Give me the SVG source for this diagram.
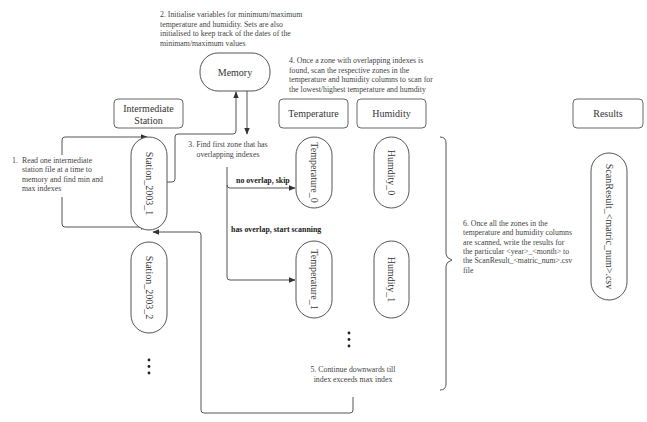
<svg xmlns="http://www.w3.org/2000/svg" width="647" height="422" viewBox="0 0 647 422">
<style>
  .bg{fill:#ffffff}
  .box{fill:#ffffff;stroke:#666666;stroke-width:1}
  .pill{fill:#ffffff;stroke:#555555;stroke-width:1}
  .lbl{font-family:"Liberation Serif","Times New Roman",serif;font-size:10px;fill:#333333}
  .note{font-family:"Liberation Serif","Times New Roman",serif;font-size:7.8px;fill:#444444}
  .bold{font-family:"Liberation Serif","Times New Roman",serif;font-size:7.9px;font-weight:bold;fill:#222222}
  .conn{fill:none;stroke:#555555;stroke-width:1}
  .dot{fill:#222222}
</style>
<defs>
  <marker id="arr" viewBox="0 0 10 10" refX="9" refY="5" markerWidth="7" markerHeight="7" markerUnits="userSpaceOnUse" orient="auto-start-reverse">
    <path d="M0,1 L10,5 L0,9 Z" fill="#333333"/>
  </marker>
</defs>
<rect class="bg" x="0" y="0" width="647" height="422"/>

<g id="connectors">
  <path class="conn" d="M247,91 V134" marker-end="url(#arr)"/>
  <path class="conn" d="M167,182 H172 Q175,182 175,179 V137 Q175,134 178,134 H233 Q236,134 236,131 V92" marker-end="url(#arr)"/>
  <path class="conn" d="M147,137 H65 Q62,137 62,140 V224 Q62,227 65,227 H147" marker-start="url(#arr)" marker-end="url(#arr)"/>
  <path class="conn" d="M353,397 V410 Q353,413 350,413 H204 Q201,413 201,410 V235 Q201,232 198,232 H153" marker-end="url(#arr)"/>
  <path class="conn" d="M227,167 V277 Q227,280 230,280 H295" marker-end="url(#arr)"/>
  <path class="conn" d="M227,185 Q227,188 230,188 H295" marker-end="url(#arr)"/>
  <path class="conn" d="M440,137 Q446,137 446,143 V254 Q446,258 452,260 Q446,262 446,266 V384 Q446,390 440,390" stroke="#777777"/>
</g>

<g id="memory">
  <rect class="pill" x="200" y="53" width="70" height="38" rx="18"/>
  <text class="lbl" x="235" y="75.5" text-anchor="middle">Memory</text>
</g>
<g id="intermediate-station">
  <rect class="box" x="114" y="99" width="69" height="29" rx="4"/>
  <text class="lbl" x="148.5" y="112" text-anchor="middle">Intermediate</text>
  <text class="lbl" x="148.5" y="124" text-anchor="middle">Station</text>
</g>
<g id="temperature-header">
  <rect class="box" x="279" y="99" width="69" height="29" rx="4"/>
  <text class="lbl" x="313.5" y="117" text-anchor="middle">Temperature</text>
</g>
<g id="humidity-header">
  <rect class="box" x="357" y="99" width="69" height="29" rx="4"/>
  <text class="lbl" x="391.5" y="117" text-anchor="middle">Humidity</text>
</g>
<g id="results-header">
  <rect class="box" x="573" y="99" width="70" height="29" rx="4"/>
  <text class="lbl" x="608" y="117" text-anchor="middle">Results</text>
</g>

<g id="station-2003-1">
  <rect class="pill" x="131" y="137" width="36" height="93" rx="18"/>
  <text class="lbl" transform="translate(149,183.5) rotate(90)" x="0" y="3.5" text-anchor="middle">Station_2003_1</text>
</g>
<g id="station-2003-2">
  <rect class="pill" x="131" y="242" width="36" height="91" rx="18"/>
  <text class="lbl" transform="translate(149,287.5) rotate(90)" x="0" y="3.5" text-anchor="middle">Station_2003_2</text>
</g>
<g id="temperature-0">
  <rect class="pill" x="296" y="137" width="36" height="71" rx="18"/>
  <text class="lbl" transform="translate(314,172.5) rotate(90)" x="0" y="3.5" text-anchor="middle">Temperature_0</text>
</g>
<g id="humidity-0">
  <rect class="pill" x="374" y="137" width="35" height="71" rx="17.5"/>
  <text class="lbl" transform="translate(391.5,172.5) rotate(90)" x="0" y="3.5" text-anchor="middle">Humdity_0</text>
</g>
<g id="temperature-1">
  <rect class="pill" x="296" y="241" width="36" height="77" rx="18"/>
  <text class="lbl" transform="translate(314,279.5) rotate(90)" x="0" y="3.5" text-anchor="middle">Temperature_1</text>
</g>
<g id="humidity-1">
  <rect class="pill" x="374" y="241" width="35" height="77" rx="17.5"/>
  <text class="lbl" transform="translate(391.5,279.5) rotate(90)" x="0" y="3.5" text-anchor="middle">Humdity_1</text>
</g>
<g id="scanresult">
  <rect class="pill" x="591" y="153" width="36" height="147" rx="18"/>
  <text class="lbl" transform="translate(609,226.5) rotate(90)" x="0" y="3.5" text-anchor="middle">ScanResult_&lt;matric_num&gt;.csv</text>
</g>

<g id="ellipsis-stations">
  <circle class="dot" cx="149" cy="360" r="1.4"/>
  <circle class="dot" cx="149" cy="366.5" r="1.4"/>
  <circle class="dot" cx="149" cy="373" r="1.4"/>
</g>
<g id="ellipsis-zones">
  <circle class="dot" cx="349" cy="333" r="1.4"/>
  <circle class="dot" cx="349" cy="339.5" r="1.4"/>
  <circle class="dot" cx="349" cy="346" r="1.4"/>
</g>

<g id="note-1">
  <rect x="8" y="155" width="96" height="42" fill="#ffffff"/>
  <text class="note" x="12" y="163">1.</text>
  <text class="note" x="22" y="163">Read one intermediate</text>
  <text class="note" x="22" y="172.3">station file at a time to</text>
  <text class="note" x="22" y="181.6">memory and find min and</text>
  <text class="note" x="22" y="190.9">max indexes</text>
</g>
<g id="note-2">
  <text class="note" x="160" y="17">2. Initialise variables for minimum/maximum</text>
  <text class="note" x="160" y="26.5">temperature and humidity. Sets are also</text>
  <text class="note" x="160" y="36">initialised to keep track of the dates of the</text>
  <text class="note" x="160" y="45.5">minimam/maximum values</text>
</g>
<g id="note-3">
  <text class="note" x="228" y="147" text-anchor="middle">3. Find first zone that has</text>
  <text class="note" x="228" y="157" text-anchor="middle">overlapping indexes</text>
</g>
<g id="note-4">
  <text class="note" x="289" y="63">4. Once a zone with overlapping indexes is</text>
  <text class="note" x="289" y="72.5">found, scan the respective zones in the</text>
  <text class="note" x="289" y="82">temperature and humidity columns to scan for</text>
  <text class="note" x="289" y="91.5">the lowest/highest temperature and humdity</text>
</g>
<g id="note-5">
  <text class="note" x="353" y="372" text-anchor="middle">5. Continue downwards till</text>
  <text class="note" x="353" y="381.5" text-anchor="middle">index exceeds max index</text>
</g>
<g id="note-6">
  <text class="note" x="463" y="226">6. Once all the zones in the</text>
  <text class="note" x="463" y="235.3">temperature and humidity columns</text>
  <text class="note" x="463" y="244.6">are scanned, write the results for</text>
  <text class="note" x="463" y="253.9">the particular &lt;year&gt;_&lt;month&gt; to</text>
  <text class="note" x="463" y="263.2">the ScanResult_&lt;matric_num&gt;.csv</text>
  <text class="note" x="463" y="272.5">file</text>
</g>
<g id="edge-labels">
  <text class="bold" x="236" y="183">no overlap, skip</text>
  <text class="bold" x="231" y="232">has overlap, start scanning</text>
</g>
</svg>
